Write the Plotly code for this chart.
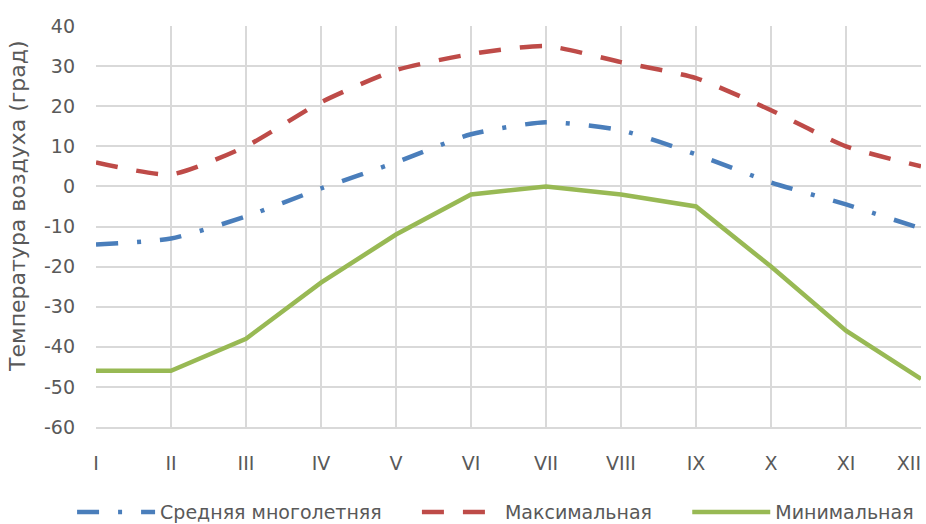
import plotly.graph_objects as go

months = ["I", "II", "III", "IV", "V", "VI", "VII", "VIII", "IX", "X", "XI", "XII"]
mean_t = [-14.5, -13, -7.5, -0.5, 6, 13, 16, 14, 8, 1, -4.5, -10.5]
max_t = [6, 3, 10, 21, 29, 33, 35, 31, 27, 19, 10, 5]
min_t = [-46, -46, -38, -24, -12, -2, 0, -2, -5, -20, -36, -48]
y_ticks = [-60, -50, -40, -30, -20, -10, 0, 10, 20, 30, 40]
y_ticktext = [str(v) for v in y_ticks]
y_title = "Температура воздуха (град)"
series_names = ["Средняя многолетняя", "Максимальная", "Минимальная"]

nb = "\u00a0"
# last month label padded with no-break spaces so it stays inside the page like in the original
x_ticktext = months[:-1] + [months[-1] + nb * 4]
# legend entries padded with no-break spaces to reproduce the original spacing
legend_names = [series_names[0] + nb * 5, series_names[1] + nb * 5, series_names[2]]

font = "DejaVu Sans"
grey = "#595959"
fs = 19

fig = go.Figure()
fig.add_trace(go.Scatter(x=months, y=mean_t, mode="lines", name=legend_names[0],
                         line=dict(color="#4a7ebb", width=4.5, dash="22px,19px,4px,19px", shape="spline", smoothing=0.6)))
fig.add_trace(go.Scatter(x=months, y=max_t, mode="lines", name=legend_names[1],
                         line=dict(color="#be4b48", width=4.5, dash="22px,19px", shape="spline", smoothing=0.6)))
fig.add_trace(go.Scatter(x=months, y=min_t, mode="lines", name=legend_names[2],
                         line=dict(color="#98b954", width=4.5)))

fig.update_layout(
    width=926, height=524,
    margin=dict(l=96, r=5, t=26, b=97, autoexpand=False),
    paper_bgcolor="white", plot_bgcolor="white",
    font=dict(family=font, size=fs, color=grey),
    showlegend=True,
    legend=dict(orientation="h", x=-0.029, xanchor="left", y=-0.165, yanchor="top",
                font=dict(size=fs, color=grey), itemwidth=78, tracegroupgap=0),
    xaxis=dict(type="category", showgrid=True, gridcolor="#d9d9d9", gridwidth=1.5,
               showline=True, linecolor="#d9d9d9", linewidth=1.5, ticks="",
               tickmode="array", tickvals=months, ticktext=x_ticktext,
               tickfont=dict(size=fs, color=grey), range=[0, 11], ticklabelstandoff=18,
               automargin=False),
    yaxis=dict(range=[-60, 40], tickvals=y_ticks, ticktext=y_ticktext, showgrid=True,
               gridcolor="#d9d9d9", gridwidth=1.5,
               zeroline=False, showline=False, ticks="", automargin=False,
               tickfont=dict(size=fs, color=grey), ticklabelstandoff=20),
    annotations=[dict(text=y_title, textangle=-90, xref="paper", yref="paper",
                      x=-0.0945, y=0.549, xanchor="center", yanchor="middle",
                      showarrow=False, font=dict(size=22, color=grey))],
)

fig.write_html("out.html")
